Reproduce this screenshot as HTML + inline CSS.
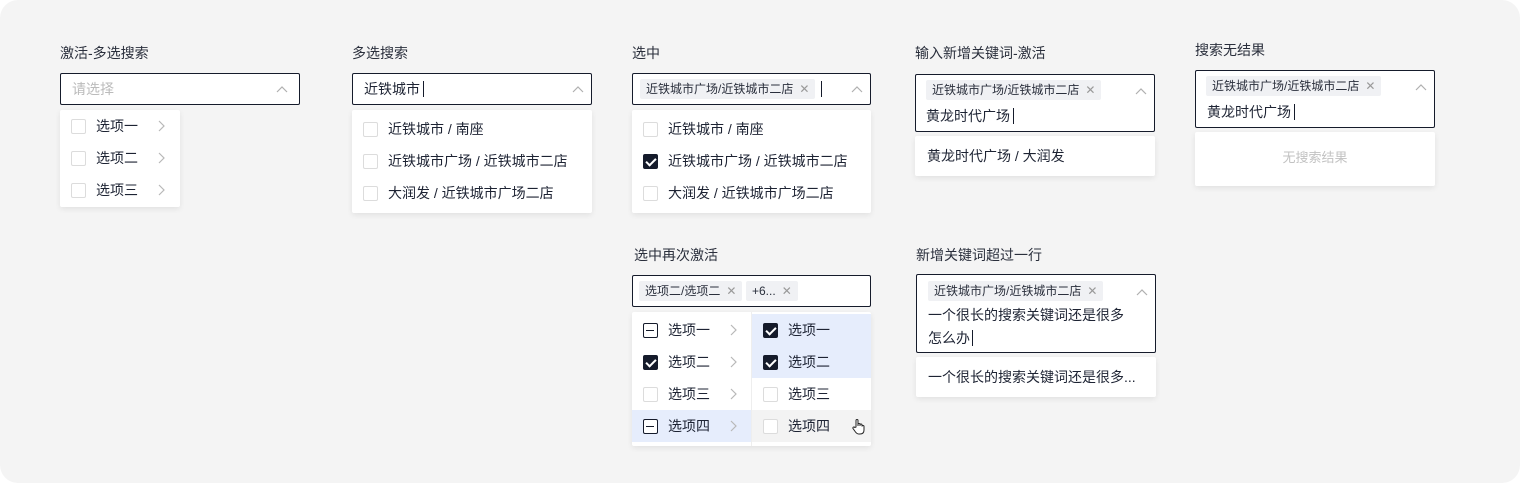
<!DOCTYPE html>
<html><head><meta charset="utf-8">
<style>
*{box-sizing:border-box;margin:0;padding:0}
body{width:1520px;height:483px;background:#fff;font-family:"Liberation Sans","Noto Sans CJK SC",sans-serif;color:#1d2333;position:relative;overflow:hidden}
.bg{position:absolute;left:0;top:0;width:1520px;height:483px;background:#f4f4f4;border-radius:18px}
.a{position:absolute}
.lbl{position:absolute;font-size:14px;color:#2a2f3c;line-height:16px}
.inp{position:absolute;background:#fff;border:1px solid #151b2b;border-radius:2px}
.dd{position:absolute;background:#fff;border-radius:2px;box-shadow:0 2px 6px rgba(0,0,0,.08)}
.row{position:absolute;left:0;right:0;height:32px;font-size:14px;line-height:32px}
.cb{position:absolute;width:15px;height:15px;border:1px solid #dcdcdc;border-radius:2px;background:#fff}
.cb.on{background:#151b2b;border-color:#151b2b}
.cb.on::after{content:"";position:absolute;left:4px;top:1px;width:4px;height:8px;border:solid #fff;border-width:0 2px 2px 0;transform:rotate(45deg)}
.cb.ind{border:1.5px solid #151b2b}
.cb.ind::after{content:"";position:absolute;left:2px;top:5.5px;width:8px;height:1.5px;background:#151b2b}
.tag{position:absolute;height:20px;background:#f0f1f4;border-radius:2px;font-size:12px;line-height:20px;padding:0 6px;color:#2a2f3c;white-space:nowrap}
.tag .x{color:#999;margin-left:6px;font-size:12px}
.cur{position:absolute;width:1px;height:16px;background:#151b2b}
.t{position:absolute;font-size:14px;line-height:20px;white-space:nowrap}
</style></head><body>
<div class="bg"></div>
<svg width="0" height="0" style="position:absolute"><defs>
<symbol id="up" viewBox="0 0 12 8"><polyline points="1,7 6,2 11,7" fill="none" stroke="#b0b0b0" stroke-width="1.2"/></symbol>
<symbol id="rt" viewBox="0 0 8 12"><polyline points="1,1 6,6 1,11" fill="none" stroke="#b8b8b8" stroke-width="1.2"/></symbol>
</defs></svg>

<!-- col1 -->
<div class="lbl" style="left:60px;top:45px">激活-多选搜索</div>
<div class="inp" style="left:60px;top:73px;width:240px;height:32px">
  <div class="t" style="left:11px;top:5px;color:#bbb">请选择</div>
  <svg class="a" style="left:215px;top:11px" width="12" height="8"><use href="#up"/></svg>
</div>
<div class="dd" style="left:60px;top:110px;width:120px;height:97px">
  <div class="row" style="top:0"><div class="cb" style="left:11px;top:9px"></div><span class="a" style="left:36px">选项一</span><svg class="a" style="left:98px;top:10px" width="8" height="12"><use href="#rt"/></svg></div>
  <div class="row" style="top:32px"><div class="cb" style="left:11px;top:9px"></div><span class="a" style="left:36px">选项二</span><svg class="a" style="left:98px;top:10px" width="8" height="12"><use href="#rt"/></svg></div>
  <div class="row" style="top:64px"><div class="cb" style="left:11px;top:9px"></div><span class="a" style="left:36px">选项三</span><svg class="a" style="left:98px;top:10px" width="8" height="12"><use href="#rt"/></svg></div>
</div>

<!-- col2 -->
<div class="lbl" style="left:352px;top:45px">多选搜索</div>
<div class="inp" style="left:352px;top:73px;width:240px;height:32px">
  <div class="t" style="left:11px;top:5px">近铁城市</div>
  <div class="cur" style="left:70px;top:7px"></div>
  <svg class="a" style="left:219px;top:11px" width="12" height="8"><use href="#up"/></svg>
</div>
<div class="dd" style="left:352px;top:110px;width:240px;height:103px">
  <div class="row" style="top:3px"><div class="cb" style="left:11px;top:9px"></div><span class="a" style="left:36px">近铁城市 / 南座</span></div>
  <div class="row" style="top:35px"><div class="cb" style="left:11px;top:9px"></div><span class="a" style="left:36px">近铁城市广场 / 近铁城市二店</span></div>
  <div class="row" style="top:67px"><div class="cb" style="left:11px;top:9px"></div><span class="a" style="left:36px">大润发 / 近铁城市广场二店</span></div>
</div>

<!-- col3 -->
<div class="lbl" style="left:632px;top:45px">选中</div>
<div class="inp" style="left:632px;top:73px;width:239px;height:32px">
  <div class="tag" style="left:7px;top:5px">近铁城市广场/近铁城市二店<span class="x">✕</span></div>
  <div class="cur" style="left:188px;top:7px"></div>
  <svg class="a" style="left:218px;top:11px" width="12" height="8"><use href="#up"/></svg>
</div>
<div class="dd" style="left:632px;top:110px;width:239px;height:103px">
  <div class="row" style="top:3px"><div class="cb" style="left:11px;top:9px"></div><span class="a" style="left:36px">近铁城市 / 南座</span></div>
  <div class="row" style="top:35px"><div class="cb on" style="left:11px;top:9px"></div><span class="a" style="left:36px">近铁城市广场 / 近铁城市二店</span></div>
  <div class="row" style="top:67px"><div class="cb" style="left:11px;top:9px"></div><span class="a" style="left:36px">大润发 / 近铁城市广场二店</span></div>
</div>

<!-- col3 bottom -->
<div class="lbl" style="left:634px;top:247px">选中再次激活</div>
<div class="inp" style="left:632px;top:275px;width:239px;height:32px">
  <div class="tag" style="left:6px;top:5px">选项二/选项二<span class="x">✕</span></div>
  <div class="tag" style="left:113px;top:5px">+6...<span class="x">✕</span></div>
</div>
<div class="dd" style="left:632px;top:312px;width:239px;height:134px;overflow:hidden">
  <div class="a" style="left:119px;top:0;width:1px;height:134px;background:#eee"></div>
  <div class="a" style="left:0;top:98px;width:119px;height:32px;background:#e6edfc"></div>
  <div class="a" style="left:120px;top:2px;width:119px;height:64px;background:#e6edfc"></div>
  <div class="a" style="left:120px;top:98px;width:119px;height:32px;background:#f3f3f3"></div>
  <div class="row" style="top:2px;width:119px"><div class="cb ind" style="left:11px;top:9px"></div><span class="a" style="left:36px">选项一</span><svg class="a" style="left:98px;top:10px" width="8" height="12"><use href="#rt"/></svg></div>
  <div class="row" style="top:34px;width:119px"><div class="cb on" style="left:11px;top:9px"></div><span class="a" style="left:36px">选项二</span><svg class="a" style="left:98px;top:10px" width="8" height="12"><use href="#rt"/></svg></div>
  <div class="row" style="top:66px;width:119px"><div class="cb" style="left:11px;top:9px"></div><span class="a" style="left:36px">选项三</span><svg class="a" style="left:98px;top:10px" width="8" height="12"><use href="#rt"/></svg></div>
  <div class="row" style="top:98px;width:119px"><div class="cb ind" style="left:11px;top:9px"></div><span class="a" style="left:36px">选项四</span><svg class="a" style="left:98px;top:10px" width="8" height="12"><use href="#rt"/></svg></div>
  <div class="row" style="top:2px;left:120px"><div class="cb on" style="left:11px;top:9px"></div><span class="a" style="left:36px">选项一</span></div>
  <div class="row" style="top:34px;left:120px"><div class="cb on" style="left:11px;top:9px"></div><span class="a" style="left:36px">选项二</span></div>
  <div class="row" style="top:66px;left:120px"><div class="cb" style="left:11px;top:9px"></div><span class="a" style="left:36px">选项三</span></div>
  <div class="row" style="top:98px;left:120px"><div class="cb" style="left:11px;top:9px"></div><span class="a" style="left:36px">选项四</span>
    <svg class="a" style="left:100px;top:8px" width="14" height="17" viewBox="0 0 14 17"><path d="M4,9 V2.5 a1,1 0 0 1 2,0 V8 V6.5 a1,1 0 0 1 2,0 V8 V7 a1,1 0 0 1 2,0 V8.5 a1,1 0 0 1 2,0 V12 q0,4 -4,4 H7 q-2,0 -3.5,-2 L1,10.5 a1,1 0 0 1 1.8,-1 Z" fill="#fff" stroke="#222" stroke-width="1"/></svg>
  </div>
</div>

<!-- col4 -->
<div class="lbl" style="left:915px;top:45px">输入新增关键词-激活</div>
<div class="inp" style="left:915px;top:74px;width:240px;height:58px">
  <div class="tag" style="left:10px;top:5px">近铁城市广场/近铁城市二店<span class="x">✕</span></div>
  <div class="t" style="left:10px;top:31px">黄龙时代广场</div>
  <div class="cur" style="left:97px;top:33px"></div>
  <svg class="a" style="left:219px;top:12px" width="12" height="8"><use href="#up"/></svg>
</div>
<div class="dd" style="left:915px;top:136px;width:240px;height:40px">
  <div class="t" style="left:12px;top:10px">黄龙时代广场 / 大润发</div>
</div>

<!-- col4 bottom -->
<div class="lbl" style="left:916px;top:247px">新增关键词超过一行</div>
<div class="inp" style="left:916px;top:274px;width:240px;height:79px">
  <div class="tag" style="left:11px;top:6px">近铁城市广场/近铁城市二店<span class="x">✕</span></div>
  <div class="t" style="left:11px;top:30px">一个很长的搜索关键词还是很多</div>
  <div class="t" style="left:11px;top:53px">怎么办</div>
  <div class="cur" style="left:55px;top:55px"></div>
  <svg class="a" style="left:219px;top:13px" width="12" height="8"><use href="#up"/></svg>
</div>
<div class="dd" style="left:916px;top:357px;width:240px;height:40px">
  <div class="t" style="left:12px;top:10px">一个很长的搜索关键词还是很多...</div>
</div>

<!-- col5 -->
<div class="lbl" style="left:1195px;top:42px">搜索无结果</div>
<div class="inp" style="left:1195px;top:70px;width:240px;height:58px">
  <div class="tag" style="left:10px;top:5px">近铁城市广场/近铁城市二店<span class="x">✕</span></div>
  <div class="t" style="left:11px;top:31px">黄龙时代广场</div>
  <div class="cur" style="left:98px;top:33px"></div>
  <svg class="a" style="left:219px;top:12px" width="12" height="8"><use href="#up"/></svg>
</div>
<div class="dd" style="left:1195px;top:132px;width:240px;height:54px">
  <div class="t" style="left:0;width:240px;text-align:center;top:16px;font-size:13px;color:#c2c2c2">无搜索结果</div>
</div>
</body></html>
